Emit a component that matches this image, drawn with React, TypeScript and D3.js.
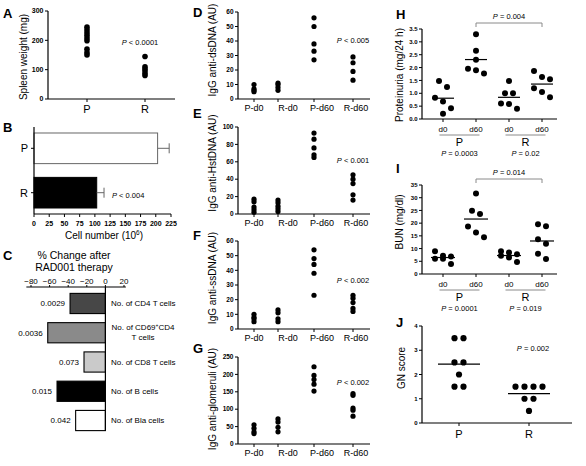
import React from 'react';
import * as d3 from 'd3';

const FONT = "'Liberation Sans', Arial, Helvetica, sans-serif";

// ---------- Panel A: spleen weight ----------
const spleenCats = ['P', 'R'];
const spleenP = [245, 235, 226, 217, 208, 199, 170, 158, 150];
const spleenR = [145, 110, 103, 96, 88, 80];
const spleenTicks = [0, 100, 200, 300];

// ---------- Panel B: cell number ----------
const cellCats = ['P', 'R'];
const cellMean = [203, 103];
const cellErr = [19, 12];
const cellTicks = [0, 25, 50, 75, 100, 125, 150, 175, 200, 225];

// ---------- Panel C: % change ----------
const changeCats = ['CD4', 'CD69', 'CD8', 'B', 'Bla'];
const changeValues = [-38, -62, -23, -52, -32];
const changePValues = ['0.0029', '0.0036', '0.073', '0.015', '0.042'];
const changeTicks = [-80, -60, -40, -20, 0, 20];

// ---------- Panels D-G: IgG ----------
const igCats = ['P-d0', 'R-d0', 'P-d60', 'R-d60'];
const dsDNA = [[10, 7, 6, 5], [11, 10, 8, 6], [56, 50, 38, 33, 27], [29, 25, 19, 13]];
const hstDNA = [[17, 14, 8, 5, 2], [16, 13, 9, 6, 3], [93, 86, 76, 68, 65], [45, 40, 35, 22, 16]];
const ssDNA = [[10, 8, 7, 5], [13, 11, 7, 5], [54, 48, 44, 38, 23], [23, 21, 18, 14, 12]];
const glomeruli = [[55, 45, 35, 30], [72, 63, 48, 35], [222, 197, 185, 172, 152], [145, 140, 103, 97, 80]];

// ---------- Panels H-I ----------
const groupCats = ['P-d0', 'P-d60', 'R-d0', 'R-d60'];
const groupTickLabels = ['d0', 'd60', 'd0', 'd60'];
const groupNames = ['P', 'R'];
const proteinuria = [
  [0.83, 1.24, 1.48, 0.68, 0.42, 0.2],
  [3.3, 2.65, 2.3, 1.95, 1.77, 1.9],
  [1.48, 1.0, 1.0, 0.6, 0.4, 0.58],
  [1.87, 1.55, 1.63, 1.2, 1.05, 0.85],
];
const proteinTicks = [0, 0.5, 1, 1.5, 2, 2.5, 3, 3.5];
const proteinGroupP = ['0.0003', '0.02'];
const bun = [
  [8.9, 6.0, 7.2, 6.9, 6.0, 3.9],
  [31.7, 23.6, 24.9, 18.7, 16.3, 14.5],
  [8.9, 8.5, 7.8, 7.2, 6.5, 4.7],
  [13.7, 11.9, 18.8, 19.6, 8.0, 5.9],
];
const bunTicks = [0, 5, 10, 15, 20, 25, 30, 35];
const bunGroupP = ['0.0001', '0.019'];

// ---------- Panel J ----------
const gnCats = ['P', 'R'];
const gnScore = [[3.5, 3.5, 2.5, 2.5, 2, 1.5, 1.5], [1.5, 1.5, 1.5, 1.5, 1, 1, 0.5]];
const gnTicks = [0, 1, 2, 3, 4];

// ---------- styles ----------
const CHANGE_FILL = ['#474747', '#8a8a8a', '#cacaca', '#000000', '#ffffff'];
const IG_DOT_SHIFT = [0, -10, -8, -3];
const GRAY = '#8a8a8a';
const AX = { stroke: '#000', strokeWidth: 1.2 };

function swarm(values: number[], y: (v: number) => number, spacing: number, thr: number, cap: number) {
  const sorted = [...values].sort((a, b) => b - a);
  const rows: number[][] = [];
  for (const v of sorted) {
    const last = rows[rows.length - 1];
    if (last && last.length < cap && Math.abs(y(last[last.length - 1]) - y(v)) < thr) last.push(v);
    else rows.push([v]);
  }
  const out: { v: number; dx: number }[] = [];
  rows.forEach((r) => r.forEach((v, k) => out.push({ v, dx: (k - (r.length - 1) / 2) * spacing })));
  return out;
}

const PText = ({ x, y, rel, val, anchor = 'middle', fs = 7.5 }: any) => (
  <text x={x} y={y} textAnchor={anchor} fontSize={fs}>
    <tspan fontStyle="italic">P</tspan>
    {` ${rel} ${val}`}
  </text>
);

const Letter = ({ x, y, t }: any) => (
  <text x={x} y={y} fontSize={13} fontWeight="bold">{t}</text>
);

const YAxis = ({ x, scale, ticks, fs = 7, fmt }: any) => {
  const [r0, r1] = scale.range();
  return (
    <g>
      <line x1={x} x2={x} y1={r1} y2={r0} {...AX} />
      {ticks.map((t: number) => (
        <g key={t}>
          <line x1={x - 3} x2={x} y1={scale(t)} y2={scale(t)} stroke="#000" strokeWidth={1} />
          <text x={x - 4.5} y={scale(t)} dy="0.35em" textAnchor="end" fontSize={fs} fontWeight="bold">
            {fmt ? fmt(t) : t}
          </text>
        </g>
      ))}
    </g>
  );
};

const VLabel = ({ x, y, t, fs = 10 }: any) => (
  <text transform={`translate(${x},${y}) rotate(-90)`} textAnchor="middle" fontSize={fs}>{t}</text>
);

function PanelA() {
  const x = d3.scalePoint(spleenCats, [87, 145]);
  const y = d3.scaleLinear([0, 300], [99, 11]);
  const groups = [spleenP, spleenR];
  return (
    <g>
      <Letter x={3} y={18} t="A" />
      <VLabel x={27} y={57} t="Spleen weight (mg)" />
      <YAxis x={48} scale={y} ticks={spleenTicks} />
      <line x1={48} x2={175} y1={99} y2={99} {...AX} />
      {spleenCats.map((c, i) => (
        <g key={c}>
          <line x1={x(c)} x2={x(c)} y1={99} y2={102} stroke="#000" />
          <text x={x(c)} y={113} textAnchor="middle" fontSize={11}>{c}</text>
          {groups[i].map((v, j) => (
            <circle key={j} cx={x(c)} cy={y(v)} r={2.8} fill="#000" />
          ))}
        </g>
      ))}
      <PText x={140} y={45} rel="<" val="0.0001" />
    </g>
  );
}

function PanelB() {
  const x = d3.scaleLinear([0, 225], [34, 171]);
  const y = d3.scaleBand(cellCats, [127, 214]).paddingInner(0.31).paddingOuter(0.135);
  return (
    <g>
      <Letter x={3} y={132} t="B" />
      {cellCats.map((c, i) => {
        const cy = (y(c) as number) + y.bandwidth() / 2;
        const xe = x(cellMean[i] + cellErr[i]);
        return (
          <g key={c}>
            <rect x={34} y={y(c)} width={x(cellMean[i]) - 34} height={y.bandwidth()}
              fill={i === 0 ? '#fff' : '#000'} stroke={i === 0 ? '#666' : '#000'} strokeWidth={1} />
            <line x1={x(cellMean[i])} x2={xe} y1={cy} y2={cy} stroke="#666" strokeWidth={1} />
            <line x1={xe} x2={xe} y1={cy - 5} y2={cy + 5} stroke="#666" strokeWidth={1} />
            <line x1={31} x2={34} y1={cy} y2={cy} stroke="#000" />
            <text x={28} y={cy} dy="0.35em" textAnchor="end" fontSize={11}>{c}</text>
          </g>
        );
      })}
      <line x1={34} x2={34} y1={127} y2={214} {...AX} />
      <line x1={34} x2={171} y1={214} y2={214} {...AX} />
      {cellTicks.map((t) => (
        <g key={t}>
          <line x1={x(t)} x2={x(t)} y1={214} y2={217} stroke="#000" />
          <text x={x(t)} y={226} textAnchor="middle" fontSize={7} fontWeight="bold">{t}</text>
        </g>
      ))}
      <text x={104} y={239} textAnchor="middle" fontSize={10}>
        Cell number (10<tspan fontSize={6.5} dy={-4}>6</tspan><tspan dy={4}>)</tspan>
      </text>
      <PText x={112} y={198} rel="<" val="0.004" anchor="start" />
    </g>
  );
}

function PanelC() {
  const x = d3.scaleLinear([-80, 20], [31, 124]);
  const y = d3.scaleBand(changeCats, [289, 435]).paddingInner(0.31).paddingOuter(0.15);
  const fmt = d3.format('d');
  const x0 = x(0);
  const labels: any[] = [
    <tspan>No. of CD4 T cells</tspan>,
    null,
    <tspan>No. of CD8 T cells</tspan>,
    <tspan>No. of B cells</tspan>,
    <tspan>No. of Bla cells</tspan>,
  ];
  return (
    <g>
      <Letter x={3} y={260} t="C" />
      <text x={74} y={259} textAnchor="middle" fontSize={10.5}>% Change after</text>
      <text x={74} y={271} textAnchor="middle" fontSize={10.5}>RAD001 therapy</text>
      <line x1={x(-85)} x2={x(22)} y1={287} y2={287} {...AX} />
      {changeTicks.map((t) => (
        <g key={t}>
          <line x1={x(t)} x2={x(t)} y1={285} y2={287} stroke="#000" />
          <text x={x(t)} y={284} textAnchor="middle" fontSize={8}>{t < 0 ? '\u2212' + Math.abs(t) : fmt(t)}</text>
        </g>
      ))}
      {changeCats.map((c, i) => {
        const y0 = y(c) as number;
        const cy = y0 + y.bandwidth() / 2;
        return (
          <g key={c}>
            <rect x={x(changeValues[i])} y={y0} width={x0 - x(changeValues[i])} height={y.bandwidth()}
              fill={CHANGE_FILL[i]} stroke="#000" strokeWidth={1.1} />
            <text x={x(changeValues[i]) - 5} y={cy} dy="0.35em" textAnchor="end" fontSize={8}>{changePValues[i]}</text>
            {labels[i] ? (
              <text x={111} y={cy} dy="0.35em" fontSize={8}>{labels[i]}</text>
            ) : (
              <g>
                <text x={143} y={cy - 3} textAnchor="middle" fontSize={8}>
                  No. of CD69<tspan fontSize={5} dy={-3}>+</tspan><tspan dy={3}>CD4</tspan>
                </text>
                <text x={143} y={cy + 7} textAnchor="middle" fontSize={8}>T cells</text>
              </g>
            )}
          </g>
        );
      })}
      <line x1={x0} x2={x0} y1={287} y2={431} {...AX} />
    </g>
  );
}

const IG_PANELS = [
  { letter: 'D', data: dsDNA, yMax: 60, step: 10, top: 12, bottom: 99, label: 'IgG anti-dsDNA (AU)', labelY: 50, p: '0.005', pY: 43, letterY: 17 },
  { letter: 'E', data: hstDNA, yMax: 100, step: 20, top: 127, bottom: 214, label: 'IgG anti-HstDNA (AU)', labelY: 163, p: '0.001', pY: 163, letterY: 118 },
  { letter: 'F', data: ssDNA, yMax: 60, step: 10, top: 241, bottom: 329, label: 'IgG anti-ssDNA (AU)', labelY: 278, p: '0.002', pY: 283, letterY: 240 },
  { letter: 'G', data: glomeruli, yMax: 250, step: 50, top: 357, bottom: 444, label: 'IgG anti-glomeruli (AU)', labelY: 399, p: '0.002', pY: 385, letterY: 353 },
];

function IgPanel({ cfg }: any) {
  const x = d3.scalePoint(igCats, [254, 356]);
  const y = d3.scaleLinear([0, cfg.yMax], [cfg.bottom, cfg.top]);
  const ticks = d3.range(0, cfg.yMax + 0.001, cfg.step);
  return (
    <g>
      <Letter x={193} y={cfg.letterY} t={cfg.letter} />
      <VLabel x={216} y={cfg.labelY} t={cfg.label} />
      <YAxis x={238} scale={y} ticks={ticks} fs={6.5} />
      <line x1={238} x2={370} y1={cfg.bottom} y2={cfg.bottom} {...AX} />
      {igCats.map((c, i) => (
        <g key={c}>
          <line x1={(x(c) as number) + IG_DOT_SHIFT[i]} x2={(x(c) as number) + IG_DOT_SHIFT[i]} y1={cfg.bottom} y2={cfg.bottom + 3} stroke="#000" />
          <text x={x(c)} y={cfg.bottom + 12} textAnchor="middle" fontSize={9}>{c}</text>
          {cfg.data[i].map((v: number, j: number) => (
            <circle key={j} cx={(x(c) as number) + IG_DOT_SHIFT[i]} cy={y(v)} r={2.6} fill="#000" />
          ))}
        </g>
      ))}
      <PText x={353} y={cfg.pY} rel="<" val={cfg.p} />
    </g>
  );
}

function GroupPanel({ letter, letterY, data, ticks, yMax, top, bottom, label, labelY, fmt, bracketP, groupP, meanW }: any) {
  const x = d3.scalePoint(groupCats, [443, 542]);
  const y = d3.scaleLinear([0, yMax], [bottom, top]);
  const bx1 = x('P-d60') as number;
  const bx2 = x('R-d60') as number;
  const by = top - 6;
  return (
    <g>
      <Letter x={396} y={letterY} t={letter} />
      <VLabel x={403} y={labelY} t={label} />
      <YAxis x={422} scale={y} ticks={ticks} fs={6} fmt={fmt} />
      <line x1={422} x2={557} y1={bottom} y2={bottom} {...AX} />
      <path d={`M${bx1},${by + 4}V${by}H${bx2}V${by + 4}`} fill="none" stroke={GRAY} strokeWidth={1} />
      <PText x={(bx1 + bx2) / 2} y={by - 4} rel="=" val={bracketP} />
      {groupCats.map((c, i) => {
        const cx = x(c) as number;
        const m = d3.mean(data[i] as number[]) as number;
        return (
          <g key={c}>
            <line x1={cx} x2={cx} y1={bottom} y2={bottom + 3} stroke="#000" />
            <text x={cx} y={bottom + 13} textAnchor="middle" fontSize={8}>{groupTickLabels[i]}</text>
            {swarm(data[i], y, 8, 7, 3).map((p, j) => (
              <circle key={j} cx={cx + p.dx} cy={y(p.v)} r={3} fill="#000" />
            ))}
            <line x1={cx - meanW / 2} x2={cx + meanW / 2} y1={y(m)} y2={y(m)} stroke="#000" strokeWidth={1.2} />
          </g>
        );
      })}
      {groupNames.map((g, k) => {
        const c = ((x(groupCats[2 * k]) as number) + (x(groupCats[2 * k + 1]) as number)) / 2;
        return (
          <g key={g}>
            <line x1={c - 20} x2={c + 20} y1={bottom + 16} y2={bottom + 16} stroke={GRAY} strokeWidth={1} />
            <text x={c} y={bottom + 26.5} textAnchor="middle" fontSize={11}>{g}</text>
            <PText x={c} y={bottom + 36.5} rel="=" val={groupP[k]} />
          </g>
        );
      })}
    </g>
  );
}

function PanelJ() {
  const x = d3.scalePoint(gnCats, [459, 529]);
  const y = d3.scaleLinear([0, 4], [423, 326]);
  return (
    <g>
      <Letter x={396} y={327} t="J" />
      <VLabel x={405} y={368} t="GN score" />
      <YAxis x={422} scale={y} ticks={gnTicks} fs={6} />
      <line x1={422} x2={572} y1={423} y2={423} {...AX} />
      {gnCats.map((c, i) => {
        const cx = x(c) as number;
        const m = d3.mean(gnScore[i]) as number;
        return (
          <g key={c}>
            <line x1={cx} x2={cx} y1={423} y2={426} stroke="#000" />
            <text x={cx} y={438} textAnchor="middle" fontSize={11}>{c}</text>
            {swarm(gnScore[i], y, 9, 7, 5).map((p, j) => (
              <circle key={j} cx={cx + p.dx} cy={y(p.v)} r={3.1} fill="#000" />
            ))}
            <line x1={cx - 21} x2={cx + 21} y1={y(m)} y2={y(m)} stroke="#000" strokeWidth={1.2} />
          </g>
        );
      })}
      <PText x={533} y={351} rel="=" val="0.002" />
    </g>
  );
}

export default function App() {
  return (
    <svg width={586} height={466} style={{ position: 'absolute', left: 0, top: 0, fontFamily: FONT }}>
      <rect width={586} height={466} fill="#fff" />
      <PanelA />
      <PanelB />
      <PanelC />
      {IG_PANELS.map((cfg) => <IgPanel key={cfg.letter} cfg={cfg} />)}
      <GroupPanel letter="H" letterY={19} data={proteinuria} ticks={proteinTicks} yMax={3.5} top={29} bottom={119}
        label="Proteinuria (mg/24 h)" labelY={75} fmt={d3.format('.1f')} bracketP="0.004" groupP={proteinGroupP} meanW={22} />
      <GroupPanel letter="I" letterY={173} data={bun} ticks={bunTicks} yMax={35} top={185} bottom={274}
        label="BUN (mg/dl)" labelY={222} bracketP="0.014" groupP={bunGroupP} meanW={24} />
      <PanelJ />
    </svg>
  );
}
